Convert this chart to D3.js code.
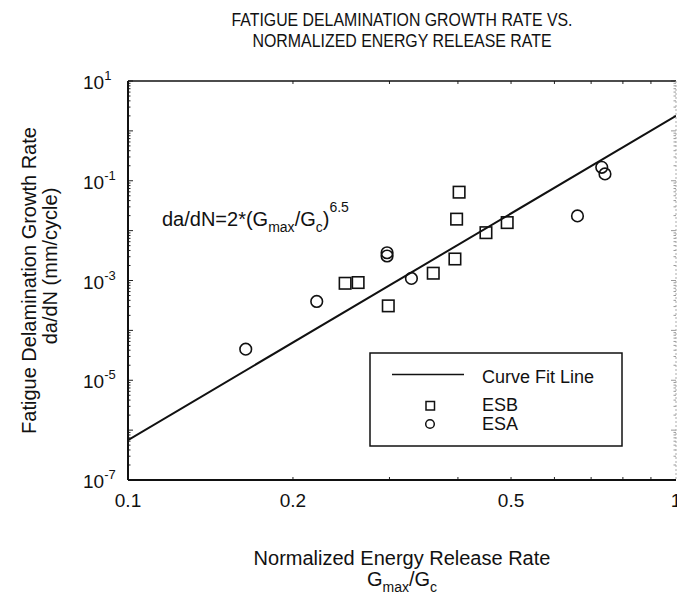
<!DOCTYPE html>
<html>
<head>
<meta charset="utf-8">
<script src="https://cdn.jsdelivr.net/npm/d3@7"></script>
<style>
  body { margin: 0; background: #fff; }
  text { font-family: "Liberation Sans", Arial, sans-serif; fill: #111; }
</style>
</head>
<body>
<script>
// data
const esbG    = [0.249, 0.263, 0.2985, 0.3606, 0.395, 0.3978, 0.402, 0.450, 0.492];
const esbRate = [8.8e-4, 9.1e-4, 3.1e-4, 1.4e-3, 2.7e-3, 1.7e-2, 5.9e-2, 9.1e-3, 1.45e-2];
const esaG    = [0.164, 0.221, 0.297, 0.297, 0.329, 0.661, 0.732, 0.742];
const esaRate = [4.2e-5, 3.8e-4, 3.6e-3, 3.1e-3, 1.1e-3, 1.97e-2, 0.186, 0.137];
// curve fit da/dN = 2*(Gmax/Gc)^6.5
const fitCoef = 2, fitExp = 6.5;
const fitG = [0.1, 1];
const xTickVals = [0.1, 0.2, 0.5, 1];
const xTickLabels = ["0.1", "0.2", "0.5", "1"];
const yTickExp = [1, -1, -3, -5, -7];

const width = 677, height = 598;
const margin = {top: 81, right: 1, bottom: 118, left: 128};

const svg = d3.select('body').append('svg')
  .attr('width', width)
  .attr('height', height);

const xScale = d3.scaleLog()
  .domain([0.1, 1])
  .range([margin.left, width - margin.right]);

const yScale = d3.scaleLog()
  .domain([1e-7, 10])
  .range([height - margin.bottom, margin.top]);

const x0 = margin.left, x1 = width - margin.right;
const y0 = height - margin.bottom, y1 = margin.top;
const xMid = (x0 + x1) / 2, yMid = (y0 + y1) / 2;

// title
const title = svg.append('text')
  .attr('text-anchor', 'middle')
  .attr('font-size', 17.5);
title.append('tspan').attr('x', xMid).attr('y', 26)
  .attr('textLength', 341).attr('lengthAdjust', 'spacingAndGlyphs')
  .text('FATIGUE DELAMINATION GROWTH RATE VS.');
title.append('tspan').attr('x', xMid).attr('y', 47)
  .attr('textLength', 299).attr('lengthAdjust', 'spacingAndGlyphs')
  .text('NORMALIZED ENERGY RELEASE RATE');

// ticks (inside)
const minorX = [];
for (let k = 2; k <= 9; k++) minorX.push(k / 10);
const minorY = [];
for (let e = -7; e < 1; e++) for (let k = 1; k <= 9; k++) minorY.push(k * Math.pow(10, e));
minorY.push(10);

const ticks = svg.append('g').attr('stroke', '#222').attr('stroke-width', 1);
minorX.forEach(function(v) {
  ticks.append('line').attr('x1', xScale(v)).attr('x2', xScale(v)).attr('y1', y0).attr('y2', y0 - 3);
  ticks.append('line').attr('x1', xScale(v)).attr('x2', xScale(v)).attr('y1', y1).attr('y2', y1 + 3);
});
minorY.forEach(function(v) {
  const lg = Math.log10(v);
  const len = Math.abs(lg - Math.round(lg)) < 1e-9 ? 5 : 2.5;
  ticks.append('line').attr('x1', x0).attr('x2', x0 + len).attr('y1', yScale(v)).attr('y2', yScale(v));
  ticks.append('line').attr('x1', x1).attr('x2', x1 - len).attr('y1', yScale(v)).attr('y2', yScale(v))
    .attr('stroke', '#999');
});

// frame
svg.append('line').attr('x1', x0).attr('x2', x0).attr('y1', y1).attr('y2', y0)
  .attr('stroke', '#111').attr('stroke-width', 2);
svg.append('line').attr('x1', x0).attr('x2', x1).attr('y1', y0).attr('y2', y0)
  .attr('stroke', '#111').attr('stroke-width', 2);
svg.append('line').attr('x1', x0).attr('x2', x1).attr('y1', y1).attr('y2', y1)
  .attr('stroke', '#111').attr('stroke-width', 1.5);
svg.append('line').attr('x1', x1).attr('x2', x1).attr('y1', y1).attr('y2', y0)
  .attr('stroke', '#aaa').attr('stroke-width', 1).attr('stroke-dasharray', '2,2');

// x tick labels
xTickVals.forEach(function(v, i) {
  svg.append('text')
    .attr('x', xScale(v)).attr('y', 507)
    .attr('text-anchor', 'middle')
    .attr('font-size', 19)
    .text(xTickLabels[i]);
});

// y tick labels 10^n
yTickExp.forEach(function(e) {
  const t = svg.append('text')
    .attr('x', 83).attr('y', yScale(Math.pow(10, e)) + 8)
    .attr('font-size', 19);
  t.append('tspan').text('10');
  t.append('tspan').attr('font-size', 13).attr('dy', -9).text(e);
});

// axis titles
const xl = svg.append('text').attr('font-size', 20).attr('text-anchor', 'middle');
xl.append('tspan').attr('x', xMid).attr('y', 565).text('Normalized Energy Release Rate');
const xl2 = svg.append('text').attr('font-size', 20).attr('text-anchor', 'middle')
  .attr('x', xMid).attr('y', 586);
xl2.append('tspan').text('G');
xl2.append('tspan').attr('font-size', 14).attr('dy', 6).text('max');
xl2.append('tspan').attr('dy', -6).text('/G');
xl2.append('tspan').attr('font-size', 14).attr('dy', 6).text('c');

svg.append('text')
  .attr('transform', 'translate(36,' + yMid + ') rotate(-90)')
  .attr('text-anchor', 'middle').attr('font-size', 20)
  .text('Fatigue Delamination Growth Rate');
svg.append('text')
  .attr('transform', 'translate(57,266) rotate(-90)')
  .attr('text-anchor', 'middle').attr('font-size', 20)
  .text('da/dN (mm/cycle)');

// equation annotation
const eq = svg.append('text').attr('x', 162).attr('y', 226).attr('font-size', 20);
eq.append('tspan').text('da/dN=2*(G');
eq.append('tspan').attr('font-size', 14).attr('dy', 6).text('max');
eq.append('tspan').attr('dy', -6).text('/G');
eq.append('tspan').attr('font-size', 14).attr('dy', 6).text('c');
eq.append('tspan').attr('dy', -6).text(')');
eq.append('tspan').attr('font-size', 14).attr('dy', -14).text('6.5');

// curve fit line
svg.append('clipPath').attr('id', 'clip')
  .append('rect').attr('x', x0).attr('y', y1).attr('width', x1 - x0).attr('height', y0 - y1);
const line = d3.line()
  .x(d => xScale(d))
  .y(d => yScale(fitCoef * Math.pow(d, fitExp)));
svg.append('path')
  .attr('clip-path', 'url(#clip)')
  .attr('d', line(fitG))
  .attr('fill', 'none').attr('stroke', '#111').attr('stroke-width', 2);

// ESB squares
const sq = 11.5;
svg.append('g').selectAll('rect')
  .data(esbG.map((g, i) => ({g: g, r: esbRate[i]})))
  .join('rect')
  .attr('x', d => xScale(d.g) - sq / 2)
  .attr('y', d => yScale(d.r) - sq / 2)
  .attr('width', sq).attr('height', sq)
  .attr('fill', 'none').attr('stroke', '#111').attr('stroke-width', 1.6);

// ESA circles
svg.append('g').selectAll('circle')
  .data(esaG.map((g, i) => ({g: g, r: esaRate[i]})))
  .join('circle')
  .attr('cx', d => xScale(d.g))
  .attr('cy', d => yScale(d.r))
  .attr('r', 5.8)
  .attr('fill', 'none').attr('stroke', '#111').attr('stroke-width', 1.6);

// legend
const lg = svg.append('g');
lg.append('rect').attr('x', 370).attr('y', 353).attr('width', 252).attr('height', 93)
  .attr('fill', '#fff').attr('stroke', '#111').attr('stroke-width', 1.5);
lg.append('line').attr('x1', 392).attr('x2', 464).attr('y1', 374.5).attr('y2', 374.5)
  .attr('stroke', '#111').attr('stroke-width', 1.5);
lg.append('rect').attr('x', 426).attr('y', 401.5).attr('width', 8.5).attr('height', 8.5)
  .attr('fill', 'none').attr('stroke', '#111').attr('stroke-width', 1.5);
lg.append('circle').attr('cx', 430).attr('cy', 424).attr('r', 4.3)
  .attr('fill', 'none').attr('stroke', '#111').attr('stroke-width', 1.5);
[['Curve Fit Line', 383], ['ESB', 411], ['ESA', 430]].forEach(function(d) {
  lg.append('text').attr('x', 482).attr('y', d[1]).attr('font-size', 18).text(d[0]);
});
</script>
</body>
</html>
